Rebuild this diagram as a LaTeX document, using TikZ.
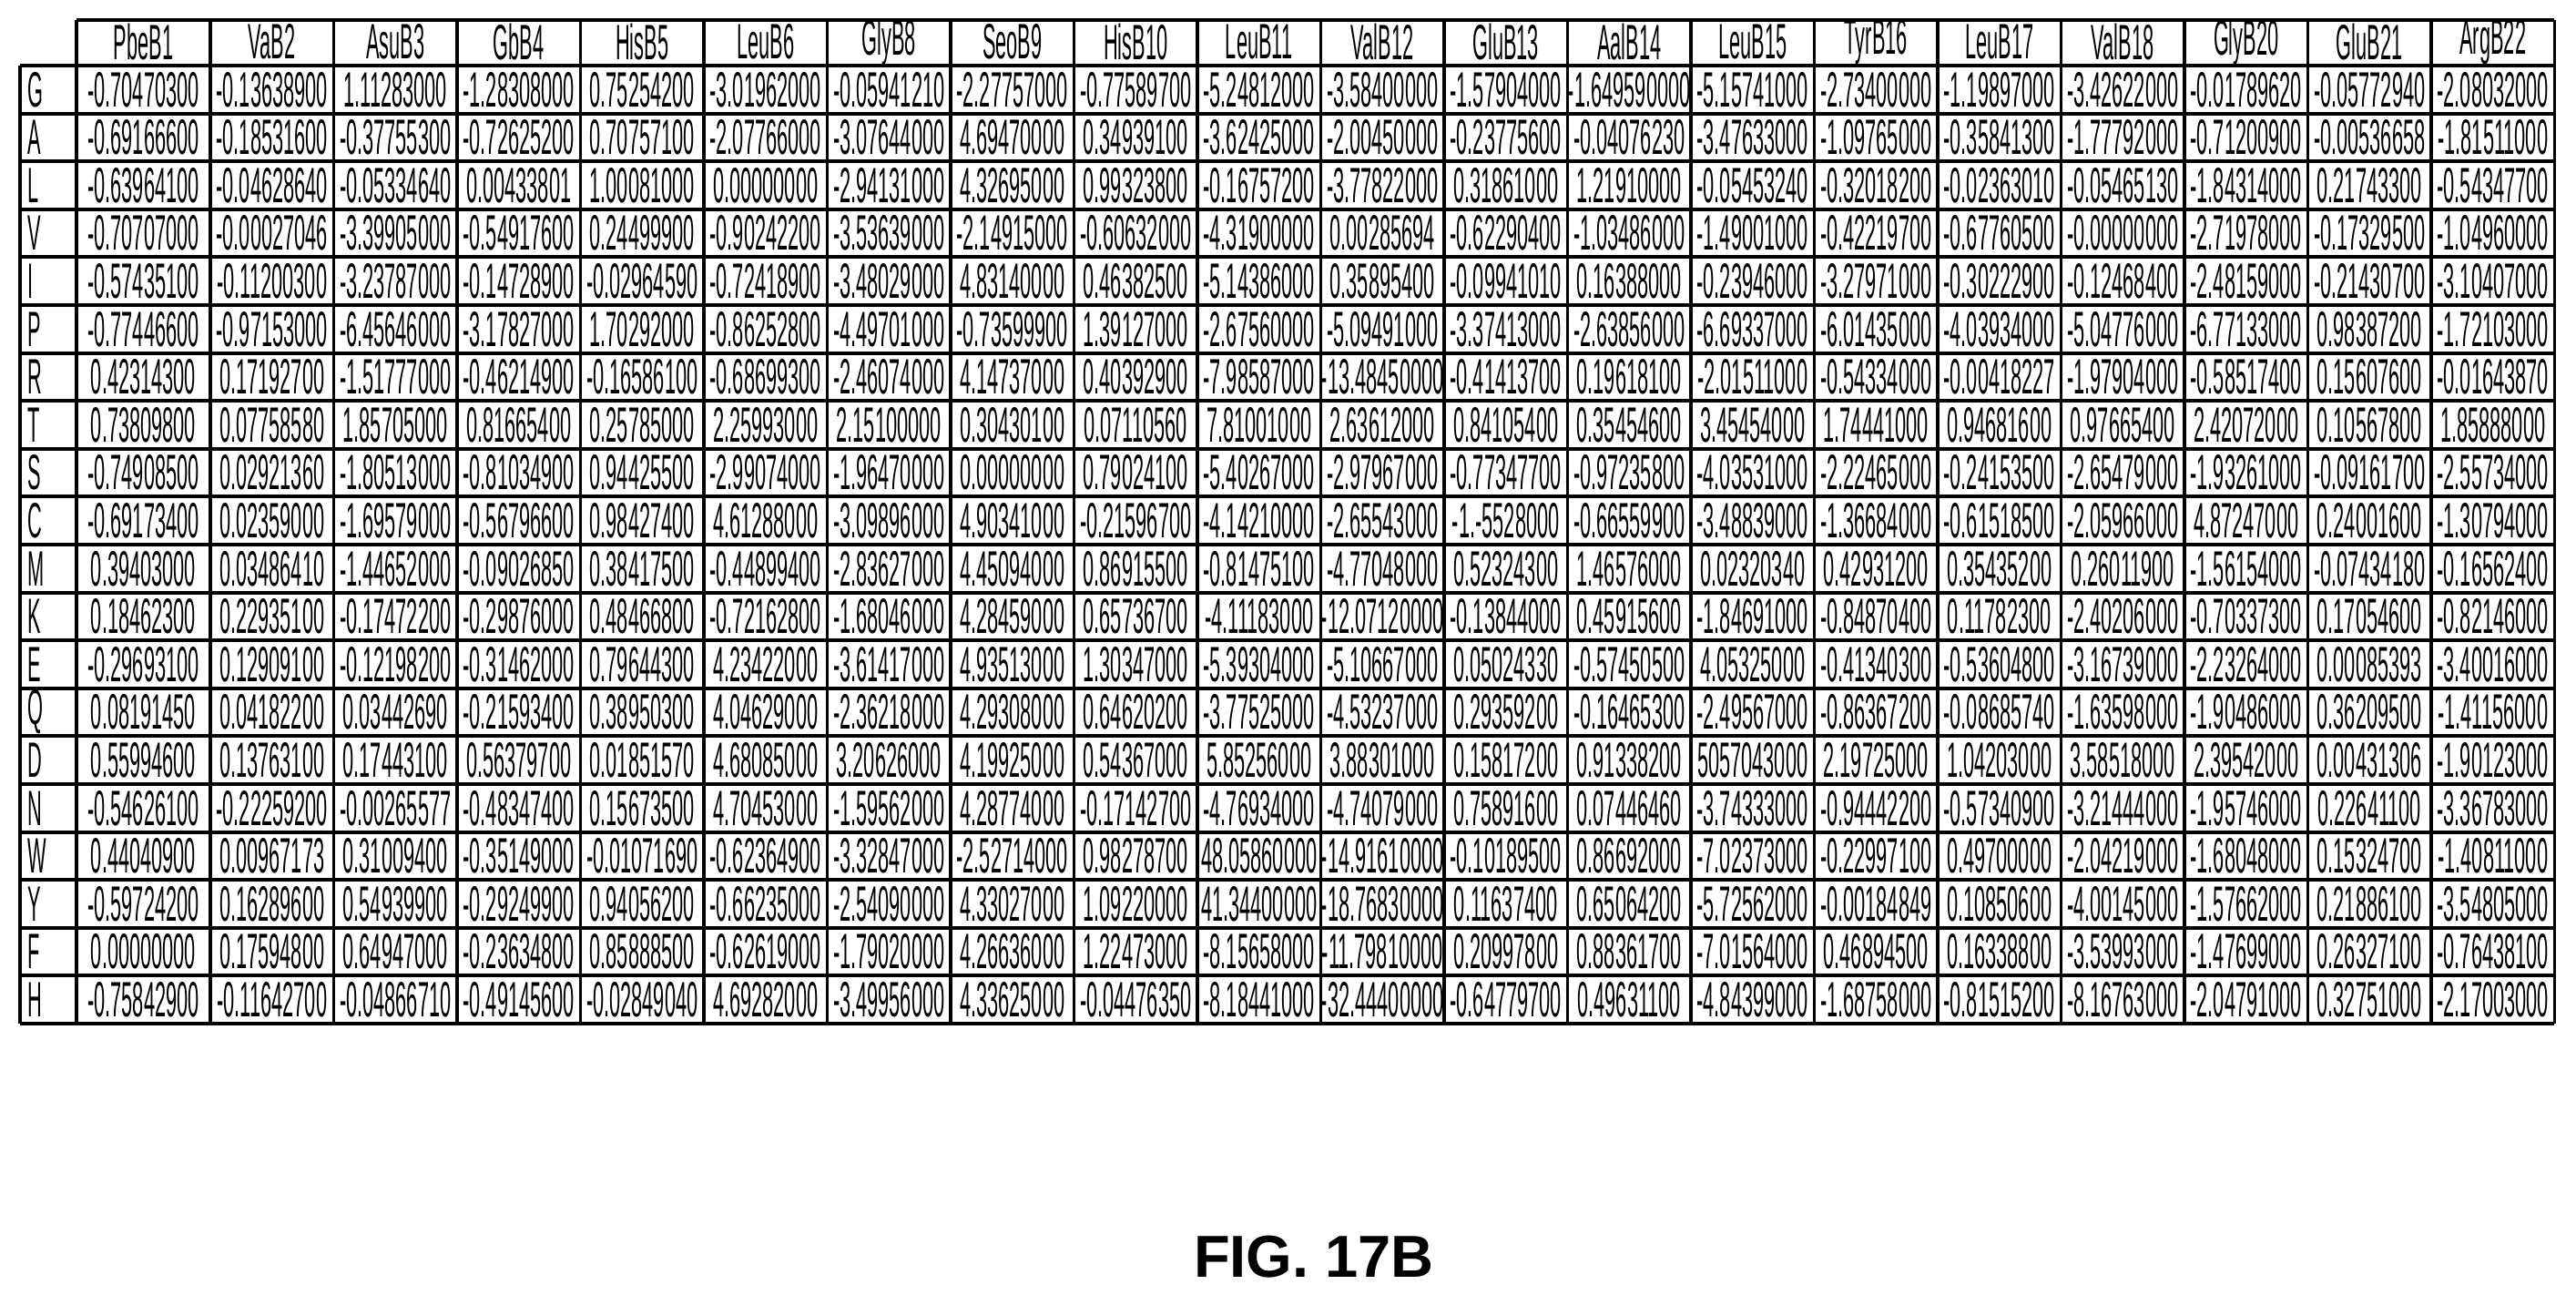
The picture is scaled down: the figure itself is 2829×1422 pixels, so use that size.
\documentclass[tikz,border=0pt]{standalone}
\usepackage{fontspec}
\setmainfont{Liberation Sans}
\usetikzlibrary{positioning}
\newcommand{\narrow}[1]{\scalebox{0.40}[1]{#1}}
\begin{document}
\begin{tikzpicture}
		[x=0.01cm, y=-0.01cm,
		cell/.style ={inner sep=0pt, font=\fontsize{15.5}{16}\selectfont},
		hdr/.style ={cell},
		grid/.style ={draw=black, line width=1.1pt},
		title/.style ={font=\fontsize{18.5}{20}\selectfont\bfseries},
		]
		\useasboundingbox (0,0) rectangle (2829,1422);

		% header cells
		\foreach \h [count=\c] in {PbeB1,VaB2,AsuB3,GbB4,HisB5,LeuB6,GlyB8,SeoB9,HisB10,LeuB11,ValB12,GluB13,AalB14,LeuB15,TyrB16,LeuB17,ValB18,GlyB20,GluB21,ArgB22}{
			\pgfmathsetmacro\cx{\c==1 ? 157.5 : 231+135.5*(\c-1.5)}
			\node[hdr] (h-\c) at (\cx,46) {\narrow{\h}};
		}

		% rows
		\foreach \lab/\vals [count=\r] in {
			G/{-0.70470300,-0.13638900,1.11283000,-1.28308000,0.75254200,-3.01962000,-0.05941210,-2.27757000,-0.77589700,-5.24812000,-3.58400000,-1.57904000,-1.649590000,-5.15741000,-2.73400000,-1.19897000,-3.42622000,-0.01789620,-0.05772940,-2.08032000},
			A/{-0.69166600,-0.18531600,-0.37755300,-0.72625200,0.70757100,-2.07766000,-3.07644000,4.69470000,0.34939100,-3.62425000,-2.00450000,-0.23775600,-0.04076230,-3.47633000,-1.09765000,-0.35841300,-1.77792000,-0.71200900,-0.00536658,-1.81511000},
			L/{-0.63964100,-0.04628640,-0.05334640,0.00433801,1.00081000,0.00000000,-2.94131000,4.32695000,0.99323800,-0.16757200,-3.77822000,0.31861000,1.21910000,-0.05453240,-0.32018200,-0.02363010,-0.05465130,-1.84314000,0.21743300,-0.54347700},
			V/{-0.70707000,-0.00027046,-3.39905000,-0.54917600,0.24499900,-0.90242200,-3.53639000,-2.14915000,-0.60632000,-4.31900000,0.00285694,-0.62290400,-1.03486000,-1.49001000,-0.42219700,-0.67760500,-0.00000000,-2.71978000,-0.17329500,-1.04960000},
			I/{-0.57435100,-0.11200300,-3.23787000,-0.14728900,-0.02964590,-0.72418900,-3.48029000,4.83140000,0.46382500,-5.14386000,0.35895400,-0.09941010,0.16388000,-0.23946000,-3.27971000,-0.30222900,-0.12468400,-2.48159000,-0.21430700,-3.10407000},
			P/{-0.77446600,-0.97153000,-6.45646000,-3.17827000,1.70292000,-0.86252800,-4.49701000,-0.73599900,1.39127000,-2.67560000,-5.09491000,-3.37413000,-2.63856000,-6.69337000,-6.01435000,-4.03934000,-5.04776000,-6.77133000,0.98387200,-1.72103000},
			R/{0.42314300,0.17192700,-1.51777000,-0.46214900,-0.16586100,-0.68699300,-2.46074000,4.14737000,0.40392900,-7.98587000,-13.48450000,-0.41413700,0.19618100,-2.01511000,-0.54334000,-0.00418227,-1.97904000,-0.58517400,0.15607600,-0.01643870},
			T/{0.73809800,0.07758580,1.85705000,0.81665400,0.25785000,2.25993000,2.15100000,0.30430100,0.07110560,7.81001000,2.63612000,0.84105400,0.35454600,3.45454000,1.74441000,0.94681600,0.97665400,2.42072000,0.10567800,1.85888000},
			S/{-0.74908500,0.02921360,-1.80513000,-0.81034900,0.94425500,-2.99074000,-1.96470000,0.00000000,0.79024100,-5.40267000,-2.97967000,-0.77347700,-0.97235800,-4.03531000,-2.22465000,-0.24153500,-2.65479000,-1.93261000,-0.09161700,-2.55734000},
			C/{-0.69173400,0.02359000,-1.69579000,-0.56796600,0.98427400,4.61288000,-3.09896000,4.90341000,-0.21596700,-4.14210000,-2.65543000,-1.-5528000,-0.66559900,-3.48839000,-1.36684000,-0.61518500,-2.05966000,4.87247000,0.24001600,-1.30794000},
			M/{0.39403000,0.03486410,-1.44652000,-0.09026850,0.38417500,-0.44899400,-2.83627000,4.45094000,0.86915500,-0.81475100,-4.77048000,0.52324300,1.46576000,0.02320340,0.42931200,0.35435200,0.26011900,-1.56154000,-0.07434180,-0.16562400},
			K/{0.18462300,0.22935100,-0.17472200,-0.29876000,0.48466800,-0.72162800,-1.68046000,4.28459000,0.65736700,-4.11183000,-12.07120000,-0.13844000,0.45915600,-1.84691000,-0.84870400,0.11782300,-2.40206000,-0.70337300,0.17054600,-0.82146000},
			E/{-0.29693100,0.12909100,-0.12198200,-0.31462000,0.79644300,4.23422000,-3.61417000,4.93513000,1.30347000,-5.39304000,-5.10667000,0.05024330,-0.57450500,4.05325000,-0.41340300,-0.53604800,-3.16739000,-2.23264000,0.00085393,-3.40016000},
			Q/{0.08191450,0.04182200,0.03442690,-0.21593400,0.38950300,4.04629000,-2.36218000,4.29308000,0.64620200,-3.77525000,-4.53237000,0.29359200,-0.16465300,-2.49567000,-0.86367200,-0.08685740,-1.63598000,-1.90486000,0.36209500,-1.41156000},
			D/{0.55994600,0.13763100,0.17443100,0.56379700,0.01851570,4.68085000,3.20626000,4.19925000,0.54367000,5.85256000,3.88301000,0.15817200,0.91338200,5057043000,2.19725000,1.04203000,3.58518000,2.39542000,0.00431306,-1.90123000},
			N/{-0.54626100,-0.22259200,-0.00265577,-0.48347400,0.15673500,4.70453000,-1.59562000,4.28774000,-0.17142700,-4.76934000,-4.74079000,0.75891600,0.07446460,-3.74333000,-0.94442200,-0.57340900,-3.21444000,-1.95746000,0.22641100,-3.36783000},
			W/{0.44040900,0.00967173,0.31009400,-0.35149000,-0.01071690,-0.62364900,-3.32847000,-2.52714000,0.98278700,48.05860000,-14.91610000,-0.10189500,0.86692000,-7.02373000,-0.22997100,0.49700000,-2.04219000,-1.68048000,0.15324700,-1.40811000},
			Y/{-0.59724200,0.16289600,0.54939900,-0.29249900,0.94056200,-0.66235000,-2.54090000,4.33027000,1.09220000,41.34400000,-18.76830000,0.11637400,0.65064200,-5.72562000,-0.00184849,0.10850600,-4.00145000,-1.57662000,0.21886100,-3.54805000},
			F/{0.00000000,0.17594800,0.64947000,-0.23634800,0.85888500,-0.62619000,-1.79020000,4.26636000,1.22473000,-8.15658000,-11.79810000,0.20997800,0.88361700,-7.01564000,0.46894500,0.16338800,-3.53993000,-1.47699000,0.26327100,-0.76438100},
			H/{-0.75842900,-0.11642700,-0.04866710,-0.49145600,-0.02849040,4.69282000,-3.49956000,4.33625000,-0.04476350,-8.18441000,-32.44400000,-0.64779700,0.49631100,-4.84399000,-1.68758000,-0.81515200,-8.16763000,-2.04791000,0.32751000,-2.17003000}}{
			\pgfmathsetmacro\cy{72+52.6*(\r-0.5)}
			\node[cell, anchor=west] (l-\r) at (30,\cy) {\narrow{\lab}};
			\foreach \v [count=\c] in \vals{
				\pgfmathsetmacro\cx{\c==1 ? 157.5 : 231+135.5*(\c-1.5)}
				\node[cell] (c-\r-\c) at (\cx,\cy) {\narrow{\v}};
			}
		}

		% grid lines
		\draw[grid] (84,22) -- (2805,22);
		\foreach \i in {0,...,20}
			\draw[grid] (21.6,72+52.6*\i) -- (2805,72+52.6*\i);
		\draw[grid] (21.6,72) -- (21.6,1124);
		\draw[grid] (84,22) -- (84,1124);
		\foreach \k in {0,...,19}
			\draw[grid] (231+135.5*\k,22) -- (231+135.5*\k,1124);

		\node[title] (fig) at (1443,1380) {FIG. 17B};
	\end{tikzpicture}
\end{document}
